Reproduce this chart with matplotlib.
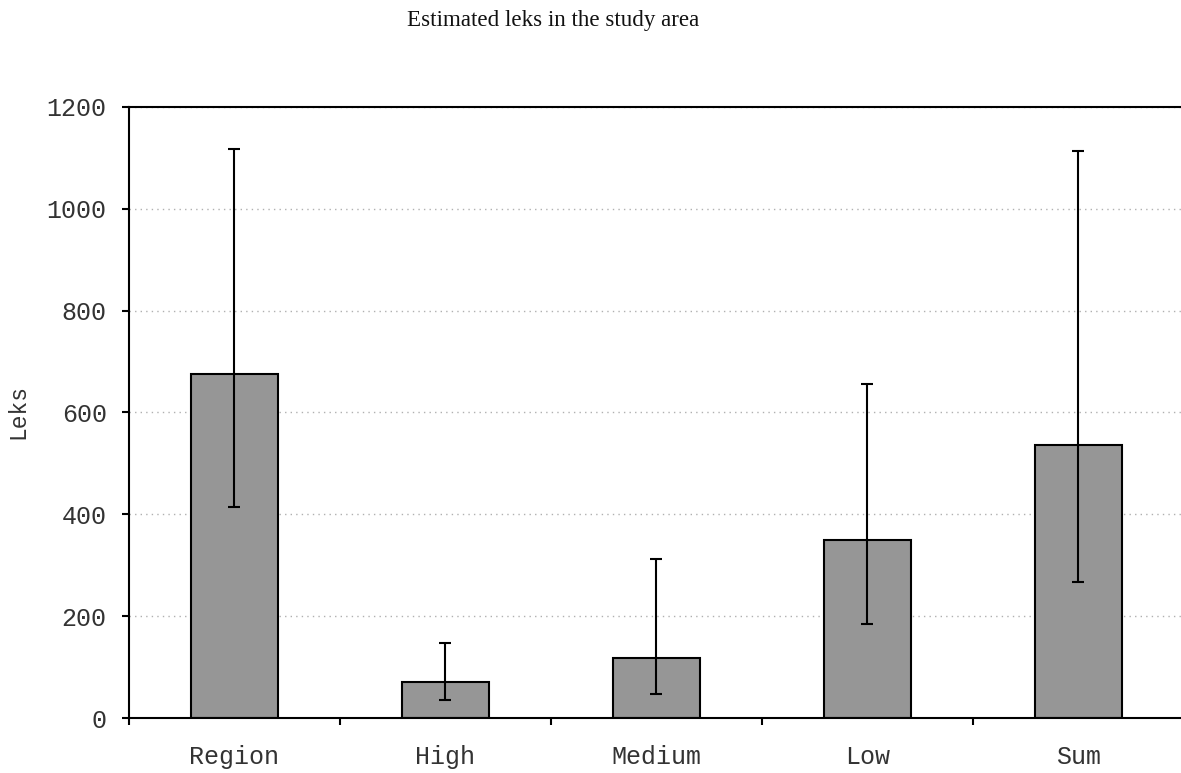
import numpy as np
import matplotlib
matplotlib.use("Agg")
import matplotlib.pyplot as plt

categories = ["Region", "High", "Medium", "Low", "Sum"]
estimates = [675, 71, 118, 349, 537]
ci_low = [415, 36, 48, 184, 267]
ci_high = [1117, 148, 312, 655, 1113]
y_ticks = [0, 200, 400, 600, 800, 1000, 1200]

mono = "Liberation Mono"
serif = "Liberation Serif"
text_col = "#333333"

fig = plt.figure(figsize=(11.81, 7.73), dpi=100)
ax = fig.add_axes([0.1092, 0.0708, 0.8932, 0.7912])

x = np.arange(len(categories))
est = np.array(estimates)
yerr = np.vstack([est - np.array(ci_low), np.array(ci_high) - est])

ax.bar(x, est, width=0.41, color="#969696", edgecolor="black", linewidth=1.5, zorder=2)
ax.errorbar(x, est, yerr=yerr, fmt="none", ecolor="black", elinewidth=1.5,
            capsize=4.5, capthick=1.5, zorder=3)

ax.set_xlim(-0.5, 4.5)
ax.set_ylim(0, 1200)
ax.set_yticks(y_ticks)
ax.set_yticklabels([str(t) for t in y_ticks], fontfamily=mono, fontsize=18, color=text_col)
ax.set_xticks(x)
ax.set_xticklabels(categories, fontfamily=mono, fontsize=18, color=text_col)
ax.set_xticks(np.arange(-0.5, 4.6, 1.0), minor=True)
ax.tick_params(axis="x", which="major", length=0, pad=19)
ax.tick_params(axis="x", which="minor", length=5, width=1.5, direction="out")
ax.tick_params(axis="y", length=5, width=1.5, pad=11)

ax.yaxis.grid(True, linestyle=(0, (1, 3)), color="#b0b0b0", linewidth=1, zorder=0)
ax.set_axisbelow(True)

for side in ["left", "bottom", "top", "right"]:
    ax.spines[side].set_linewidth(1.5)

fig.text(18 / 1181, 0.468, "Leks", fontfamily=mono, fontsize=16.5, color=text_col,
         rotation=90, ha="center", va="center")

fig.text(0.468, 0.973, "Estimated leks in the study area", fontfamily=serif,
         fontsize=16.6, ha="center", va="center", color="#111111")

fig.savefig("out.png", dpi=100)
